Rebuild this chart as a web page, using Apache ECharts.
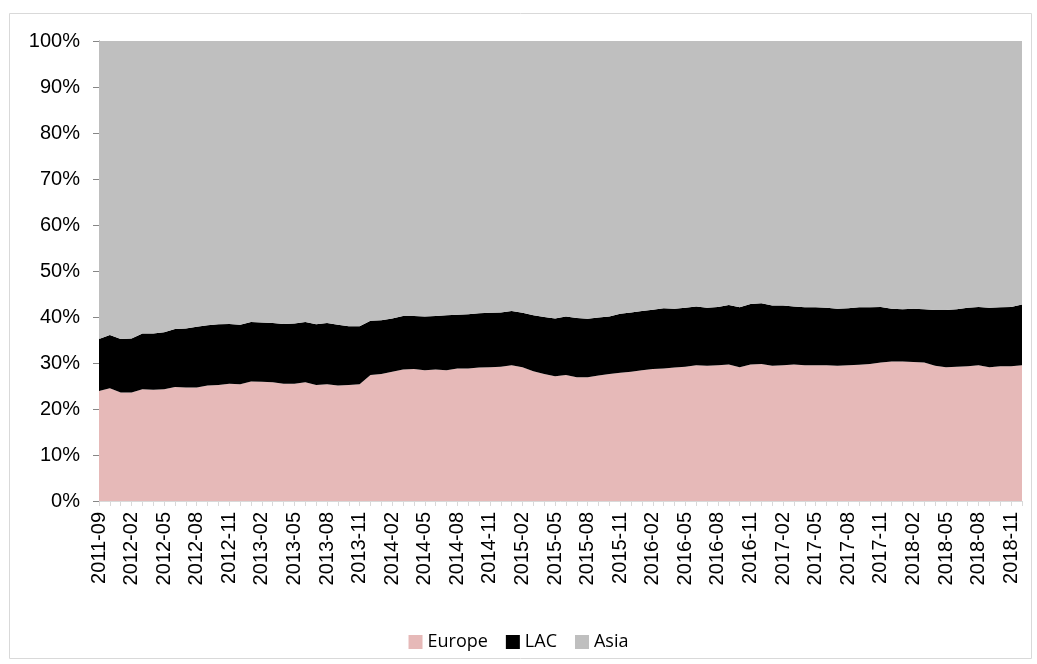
<!DOCTYPE html>
<html>
<head>
<meta charset="utf-8">
<script src="https://cdn.jsdelivr.net/npm/echarts@6/dist/echarts.min.js"></script>
<style>
  html, body { margin: 0; padding: 0; background: #fff; }
  #main { width: 1037px; height: 664px; }
</style>
</head>
<body>
<div id="main"></div>
<script>
var chartDom = document.getElementById('main');
var myChart = echarts.init(chartDom);
var option;

// category labels: 2011-09, 2011-11, 2012-01, then monthly from 2012-02 to 2018-12
var months = ['2011-09', '2011-11', '2012-01'];
for (var y = 2012; y <= 2018; y++) {
    for (var m = (y === 2012 ? 2 : 1); m <= 12; m++) {
        months.push(y + '-' + (m < 10 ? '0' + m : m));
    }
}

var europe = [
    23.9, 24.5, 23.6, 23.6, 24.3, 24.2, 24.3, 24.8, 24.7, 24.7,
    25.1, 25.2, 25.5, 25.4, 26.0, 25.9, 25.8, 25.5, 25.5, 25.8,
    25.2, 25.4, 25.1, 25.2, 25.4, 27.4, 27.6, 28.1, 28.6, 28.7,
    28.4, 28.6, 28.4, 28.8, 28.8, 29.0, 29.1, 29.2, 29.5, 29.1,
    28.2, 27.6, 27.1, 27.4, 26.9, 26.9, 27.3, 27.6, 27.9, 28.1,
    28.4, 28.7, 28.8, 29.0, 29.2, 29.5, 29.4, 29.5, 29.7, 29.1,
    29.7, 29.8, 29.4, 29.5, 29.7, 29.5, 29.5, 29.5, 29.4, 29.5,
    29.6, 29.8, 30.1, 30.3, 30.3, 30.2, 30.1, 29.4, 29.1, 29.2,
    29.3, 29.5, 29.1, 29.3, 29.3, 29.5
];

var lac = [
    11.3, 11.6, 11.6, 11.7, 12.1, 12.2, 12.4, 12.6, 12.8, 13.2,
    13.1, 13.2, 13.0, 12.9, 12.9, 12.9, 12.9, 13.0, 13.1, 13.1,
    13.2, 13.3, 13.2, 12.8, 12.6, 11.8, 11.7, 11.6, 11.6, 11.5,
    11.7, 11.6, 12.0, 11.7, 11.8, 11.8, 11.8, 11.8, 11.8, 11.8,
    12.2, 12.4, 12.6, 12.7, 12.9, 12.7, 12.6, 12.5, 12.8, 12.9,
    12.9, 12.9, 13.1, 12.8, 12.8, 12.8, 12.6, 12.7, 12.9, 13.0,
    13.1, 13.2, 13.1, 13.0, 12.6, 12.6, 12.6, 12.5, 12.4, 12.4,
    12.5, 12.3, 12.1, 11.5, 11.4, 11.6, 11.6, 12.1, 12.4, 12.5,
    12.7, 12.7, 12.9, 12.8, 12.9, 13.2
];

var asia = [
    64.8, 63.9, 64.8, 64.7, 63.6, 63.6, 63.3, 62.6, 62.5, 62.1,
    61.8, 61.6, 61.5, 61.7, 61.1, 61.2, 61.3, 61.5, 61.4, 61.1,
    61.6, 61.3, 61.7, 62.0, 62.0, 60.8, 60.7, 60.3, 59.8, 59.8,
    59.9, 59.8, 59.6, 59.5, 59.4, 59.2, 59.1, 59.0, 58.7, 59.1,
    59.6, 60.0, 60.3, 59.9, 60.2, 60.4, 60.1, 59.9, 59.3, 59.0,
    58.7, 58.4, 58.1, 58.2, 58.0, 57.7, 58.0, 57.8, 57.4, 57.9,
    57.2, 57.0, 57.5, 57.5, 57.7, 57.9, 57.9, 58.0, 58.2, 58.1,
    57.9, 57.9, 57.8, 58.2, 58.3, 58.2, 58.3, 58.5, 58.5, 58.3,
    58.0, 57.8, 58.0, 57.9, 57.8, 57.3
];

var axisFont = 'Liberation Sans';

function areaSeries(name, data, color) {
    return {
        name: name,
        type: 'line',
        stack: 'total',
        data: data,
        symbol: 'none',
        lineStyle: { width: 0 },
        areaStyle: { color: color, opacity: 1 },
        itemStyle: { color: color }
    };
}

option = {
    animation: false,
    graphic: [{
        type: 'rect',
        left: 7, top: 11,
        shape: { width: 1022, height: 645 },
        style: { fill: 'none', stroke: '#d9d9d9', lineWidth: 1 },
        silent: true
    }],
    grid: { left: 99, right: 15, top: 41, bottom: 163 },
    legend: {
        bottom: 8,
        left: 'center',
        icon: 'rect',
        itemWidth: 14,
        itemHeight: 14,
        itemGap: 18,
        textStyle: { fontSize: 18, color: '#000', fontFamily: 'Open Sans' },
        data: ['Europe', 'LAC', 'Asia']
    },
    xAxis: {
        type: 'category',
        data: months,
        boundaryGap: false,
        axisLine: { lineStyle: { color: '#d9d9d9', width: 1 } },
        axisTick: { show: true, interval: 0, length: 5, lineStyle: { color: '#d9d9d9' } },
        axisLabel: {
            interval: 2,
            rotate: 90,
            fontSize: 20,
            fontFamily: axisFont,
            color: '#000',
            margin: 11
        }
    },
    yAxis: {
        type: 'value',
        min: 0,
        max: 100,
        interval: 10,
        splitLine: { show: false },
        axisLine: { show: true, lineStyle: { color: '#868686', width: 1 } },
        axisTick: { show: true, length: 6, lineStyle: { color: '#868686' } },
        axisLabel: {
            formatter: '{value}%',
            fontSize: 20,
            fontFamily: axisFont,
            color: '#000',
            margin: 19
        }
    },
    series: [
        areaSeries('Europe', europe, '#e6b9b8'),
        areaSeries('LAC', lac, '#000000'),
        areaSeries('Asia', asia, '#bfbfbf')
    ]
};

option && myChart.setOption(option);
</script>
</body>
</html>
